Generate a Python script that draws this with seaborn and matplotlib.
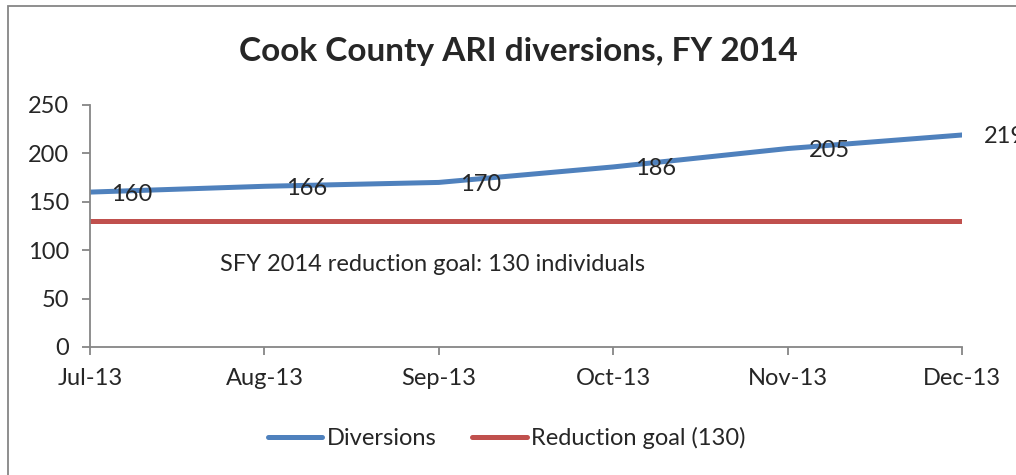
"""
Cook County ARI diversions line chart
"""
import pandas as pd
import matplotlib.pyplot as plt
import seaborn as sns
from matplotlib.patches import Rectangle

months = ['Jul-13', 'Aug-13', 'Sep-13', 'Oct-13', 'Nov-13', 'Dec-13']
diversions = [160, 166, 170, 186, 205, 219]
goal = [130, 130, 130, 130, 130, 130]
y_ticks = [0, 50, 100, 150, 200, 250]
title = 'Cook County ARI diversions, FY 2014'
goal_note = 'SFY 2014 reduction goal: 130 individuals'

sns.set_style('white')
plt.rcParams['font.family'] = ['Lato', 'DejaVu Sans']

df = pd.DataFrame({'Month': months, 'Diversions': diversions,
                   'Reduction goal (130)': goal})
long = df.melt(id_vars='Month', var_name='Series', value_name='Count')

gray = '#868686'
fig = plt.figure(figsize=(10.16, 4.75), dpi=100)
ax = fig.add_axes([0.0886, 0.2695, 0.8583, 0.5095])
sns.lineplot(data=long, x='Month', y='Count', hue='Series', sort=False,
             palette=['#4F81BD', '#C0504D'], linewidth=3.6, ax=ax)

ax.set_xlim(0, len(months) - 1)
ax.set_ylim(0, 250)
ax.set_yticks(y_ticks)
ax.set_xlabel('')
ax.set_ylabel('')
for s in ['top', 'right']:
    ax.spines[s].set_visible(False)
for s in ['left', 'bottom']:
    ax.spines[s].set_color(gray)
    ax.spines[s].set_linewidth(1.3)
ax.tick_params(bottom=True, left=True, direction='out', length=6, width=1.3,
               color=gray, labelsize=17, pad=9)

# data labels to the right of each point
for i, v in enumerate(diversions):
    ax.annotate(str(v), (i, v), xytext=(42, -2), textcoords='offset pixels',
                ha='center', va='center', fontsize=17, annotation_clip=False)

ax.text(0.745, 85, goal_note, ha='left', va='center', fontsize=17)

fig.text(0.51, 1 - 52 / 475, title, ha='center', va='center',
         fontsize=24, fontweight='bold')

handles, labels = ax.get_legend_handles_labels()
ax.legend(handles, labels, loc='center', bbox_to_anchor=(0.499, 1 - 438 / 475),
          bbox_transform=fig.transFigure, ncol=2, frameon=False, fontsize=17,
          handlelength=2.3, handletextpad=0.2, columnspacing=1.5)

# chart frame (runs off the right and bottom edges)
fig.add_artist(Rectangle((8 / 1016, -0.05), 1.1, 1 - 6 / 475 + 0.05,
                         transform=fig.transFigure, fill=False,
                         edgecolor=gray, linewidth=1.3, clip_on=False))

fig.savefig('out.png', dpi=100)
